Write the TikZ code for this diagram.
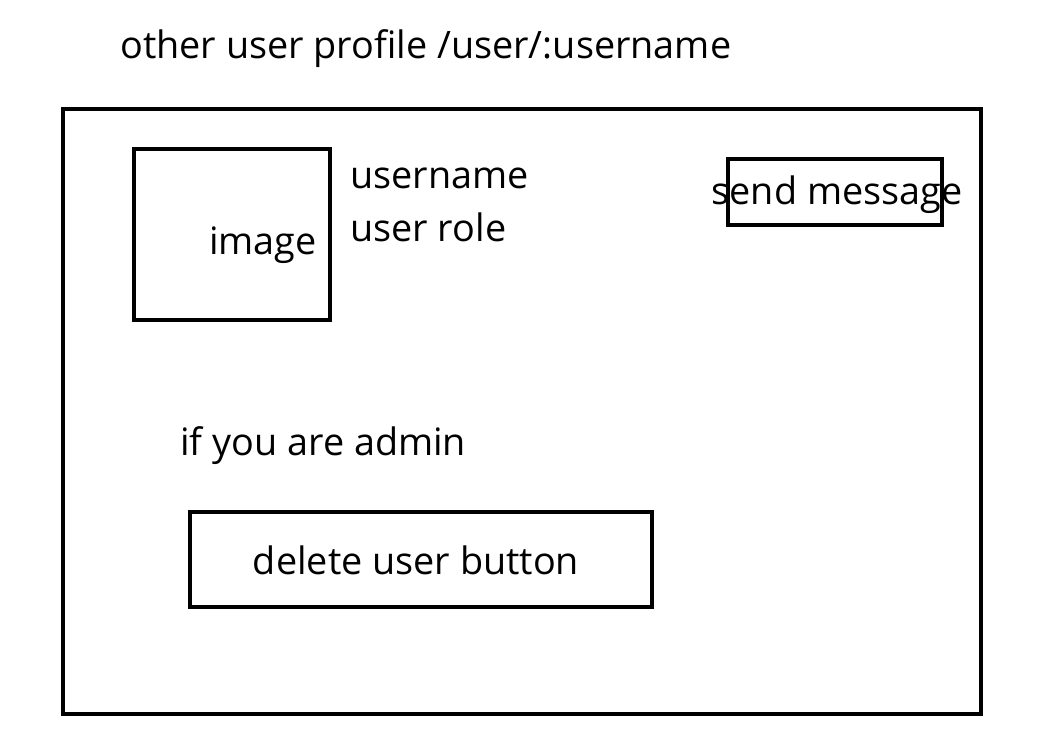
\documentclass[tikz,border=0pt]{standalone}
\usepackage{fontspec}
\setmainfont{Open Sans}
\usetikzlibrary{positioning}

\begin{document}
\begin{tikzpicture}[
    x={(0.02cm,0)}, y={(0,-0.02cm)},
    frame/.style={draw, line width=2.2pt, inner sep=0pt},
    label/.style={font=\fontsize{21.5}{25}\selectfont, inner sep=0pt}
  ]
    \useasboundingbox (0,0) rectangle (1053,752);
    \node[label, anchor=base west] (title) at (120,58) {other user profile /user/:username};
    \node[frame, minimum width=918*0.02cm, minimum height=605*0.02cm] (page) at (522,411.5) {};
    \node[frame, minimum width=196*0.02cm, minimum height=171*0.02cm] (image) at (232,234.5) {};
    \node[label, anchor=base] (imgtext) at (263,254) {image};
    \node[label, anchor=base west] (uname) at (350,188) {username};
    \node[label, anchor=base west] (urole) at (350,241) {user role};
    \node[frame, minimum width=214*0.02cm, minimum height=66*0.02cm] (send) at (835,192) {};
    \node[label, anchor=base] (sendtext) at (837,204) {send message};
    \node[label, anchor=base west] (admin) at (180,455) {if you are admin};
    \node[frame, minimum width=462*0.02cm, minimum height=95*0.02cm] (delete) at (421,559.5) {};
    \node[label, anchor=base] (deltext) at (416,574) {delete user button};
  \end{tikzpicture}
\end{document}
